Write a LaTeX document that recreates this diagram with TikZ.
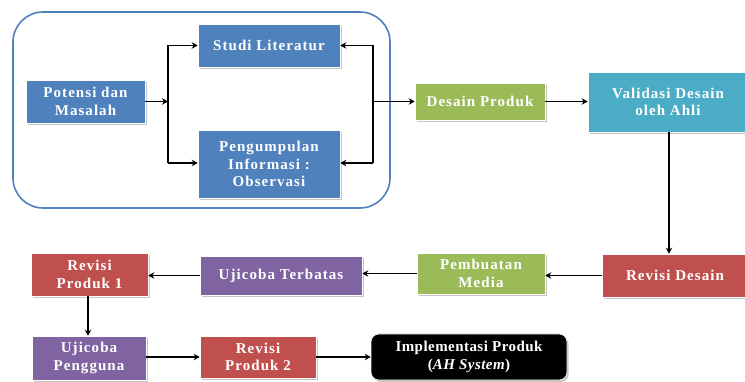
\documentclass[tikz,border=0pt]{standalone}
\usepackage{fontspec}
\setmainfont{Liberation Serif}
\usetikzlibrary{arrows.meta,shadows}
\definecolor{cblue}{HTML}{4F81BD}
\definecolor{cgreen}{HTML}{9BBB59}
\definecolor{cteal}{HTML}{4BACC6}
\definecolor{cred}{HTML}{C0504D}
\definecolor{cpurple}{HTML}{8064A2}
\begin{document}
\begin{tikzpicture}[x=1pt,y=-1pt,
  box/.style={draw=white,line width=0.6pt,text=white,align=center,inner sep=1pt,
    font=\fontsize{15}{17.5}\selectfont\bfseries\addfontfeature{LetterSpace=7},
    drop shadow={shadow xshift=1.5pt,shadow yshift=-2pt,fill=black!45,opacity=0.5}},
  conn/.style={line width=1.8pt,black},
  arr/.style={conn,-{Stealth[length=6pt,width=6.5pt]}}]
\useasboundingbox (0,0) rectangle (745,382);
\fill[white] (0,0) rectangle (745,382);
\draw[cblue,line width=1.6pt,rounded corners=30pt] (13,12) rectangle (390,208);
\node[box,fill=cblue,minimum width=119pt,minimum height=43pt] (pot) at (85.5,101.5) {Potensi dan\\Masalah};
\node[box,fill=cblue,minimum width=142pt,minimum height=43pt] (stu) at (269,45.5) {Studi Literatur};
\node[box,fill=cblue,minimum width=142pt,minimum height=68pt] (pen) at (269,164) {Pengumpulan\\Informasi :\\Observasi};
\node[box,fill=cgreen,minimum width=130pt,minimum height=37pt] (des) at (480,101.5) {Desain Produk};
\node[box,fill=cteal,minimum width=160pt,minimum height=60pt] (val) at (668,102) {Validasi Desain\\oleh Ahli};
\node[box,fill=cred,minimum width=146pt,minimum height=43pt] (rd) at (675,275.5) {Revisi Desain};
\node[box,fill=cgreen,minimum width=128pt,minimum height=41pt] (pm) at (481,273.5) {Pembuatan\\Media};
\node[box,fill=cpurple,minimum width=162pt,minimum height=39pt] (ut) at (281,275.5) {Ujicoba Terbatas};
\node[box,fill=cred,minimum width=117pt,minimum height=43pt] (rp1) at (89.5,274.5) {Revisi\\Produk 1};
\node[box,fill=cpurple,minimum width=114pt,minimum height=44pt] (up) at (89,358) {Ujicoba\\Pengguna};
\node[box,fill=cred,minimum width=116pt,minimum height=42pt] (rp2) at (258,357) {Revisi\\Produk 2};
\node[box,fill=black,rounded corners=8pt,minimum width=196pt,minimum height=46pt,
  font=\fontsize{15}{17.5}\selectfont\bfseries\addfontfeature{LetterSpace=3}] (imp) at (469,357) {Implementasi Produk\\(\textit{AH System})};
% left junction
\coordinate (j1) at (168,101.5);
\coordinate (j1t) at (168,45.5);
\coordinate (j1b) at (168,163);
\draw[arr] (pot.east) -- (j1);
\draw[conn] (j1t) -- (j1b);
\draw[arr] (j1t) -- (stu.west);
\draw[arr] (j1b) -- (pen.west |- j1b);
% right junction
\coordinate (j2) at (373,101.5);
\coordinate (j2t) at (373,45.5);
\coordinate (j2b) at (373,163);
\draw[conn] (j2t) -- (j2b);
\draw[arr] (j2t) -- (stu.east);
\draw[arr] (j2b) -- (pen.east |- j2b);
\draw[arr] (j2) -- (des.west);
\draw[arr] (des.east) -- (val.west |- des.east);
\draw[arr] (val.south -| 669,0) -- (rd.north -| 669,0);
\draw[arr] (rd.west) -- (pm.east |- rd.west);
\draw[arr] (pm.west) -- (ut.east |- pm.west);
\draw[arr] (ut.west) -- (rp1.east |- ut.west);
\draw[arr] (rp1.south -| 88,0) -- (up.north -| 88,0);
\draw[arr] (up.east |- rp2.west) -- (rp2.west);
\draw[arr] (rp2.east) -- (imp.west);
\end{tikzpicture}
\end{document}
